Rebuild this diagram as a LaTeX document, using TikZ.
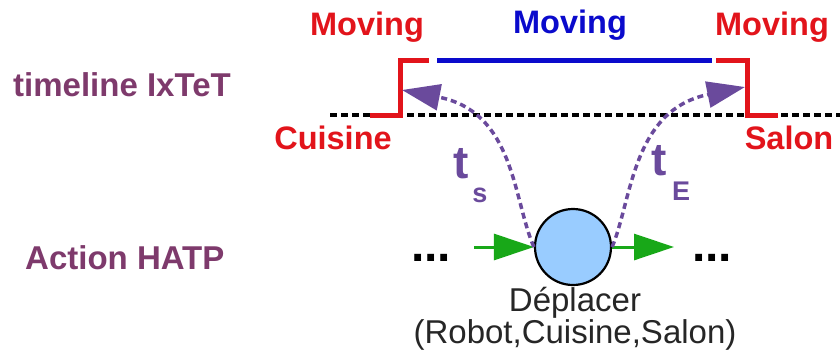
\documentclass[tikz,border=0pt]{standalone}
\usepackage{fontspec}
\setmainfont{Liberation Sans}
\usetikzlibrary{arrows.meta}
\definecolor{lab}{HTML}{7E3A6C}
\definecolor{myred}{HTML}{E2141B}
\definecolor{myblue}{HTML}{0A0ACC}
\definecolor{mypurple}{HTML}{6A4A9C}
\definecolor{mygreen}{HTML}{18A818}
\definecolor{circfill}{HTML}{99CCFF}
\tikzset{
  x=1pt, y=-1pt,
  side/.style={font=\fontsize{33}{36}\selectfont\bfseries, text=lab, inner sep=0pt},
  red label/.style={font=\fontsize{32.5}{36}\selectfont\bfseries, text=myred, inner sep=0pt},
  blue label/.style={font=\fontsize{32.5}{36}\selectfont\bfseries, text=myblue, inner sep=0pt},
  redstep/.style={draw=myred, line width=5pt},
  blueline/.style={draw=myblue, line width=5pt},
  timeaxis/.style={draw=black, line width=3.2pt, dash pattern=on 7pt off 4pt},
  link/.style={draw=mypurple, line width=3.5pt, dash pattern=on 6pt off 4pt,
    -{Triangle[length=38pt,width=26pt]}},
  flow/.style={draw=mygreen, line width=3pt, -{Triangle[length=40pt,width=26pt]}},
  actnode/.style={circle, draw=black, line width=2.2pt, fill=circfill, minimum size=76pt, inner sep=0pt},
  tlab/.style={font=\fontsize{46}{48}\selectfont\bfseries, text=mypurple, inner sep=0pt},
  sublab/.style={font=\fontsize{27}{30}\selectfont\bfseries, text=mypurple, inner sep=0pt},
  dots/.style={font=\fontsize{48}{50}\selectfont\bfseries, inner sep=0pt},
  caption/.style={font=\fontsize{33}{36}\selectfont, text=black!85, align=center, inner sep=0pt}
}
\begin{document}
\begin{tikzpicture}
\useasboundingbox (0,0) rectangle (840,360);
% side labels
\node[side, anchor=west] (tl) at (13,85) {timeline IxTeT};
\node[side, anchor=west] (ah) at (25,258) {Action HATP};
% top labels
\node[red label] (m1) at (367,27) {Moving};
\node[blue label] (m2) at (570,25) {Moving};
\node[red label] (m3) at (772,27) {Moving};
\node[red label] (cu) at (333,138) {Cuisine};
\node[red label] (sa) at (789,138) {Salon};
% time axis
\coordinate (axL) at (330,115);
\coordinate (axR) at (840,115);
\draw[timeaxis] (axL) -- (axR);
% steps
\draw[redstep] (370,115) -- (400,115) -- (400,60) -- (429,60);
\draw[redstep] (716,60) -- (747,60) -- (747,115) -- (778,115);
\draw[blueline] (437,60) -- (712,60);
% action
\node[actnode] (act) at (573,247) {};
\node[dots] (dl) at (431,258) {...};
\node[dots] (dr) at (712,258) {...};
\coordinate (gl) at (474,247);
\coordinate (gr) at (674,247);
\draw[flow] (gl) -- (act.west);
\draw[flow] (act.east) -- (gr);
\node[caption] (cap) at (575,319) {Déplacer\\[-4pt](Robot,Cuisine,Salon)};
% links
\coordinate (tipL) at (402,90);
\coordinate (tipR) at (745,87);
\draw[link] (act.west) .. controls (513,200) and (515,112) .. (tipL);
\draw[link] (act.east) .. controls (632,200) and (632,110) .. (tipR);
\node[tlab] (ts) at (461,164) {t};
\node[sublab] (tss) at (480,195) {s};
\node[tlab] (te) at (659,161) {t};
\node[sublab] (tee) at (681,191) {E};
\end{tikzpicture}
\end{document}
